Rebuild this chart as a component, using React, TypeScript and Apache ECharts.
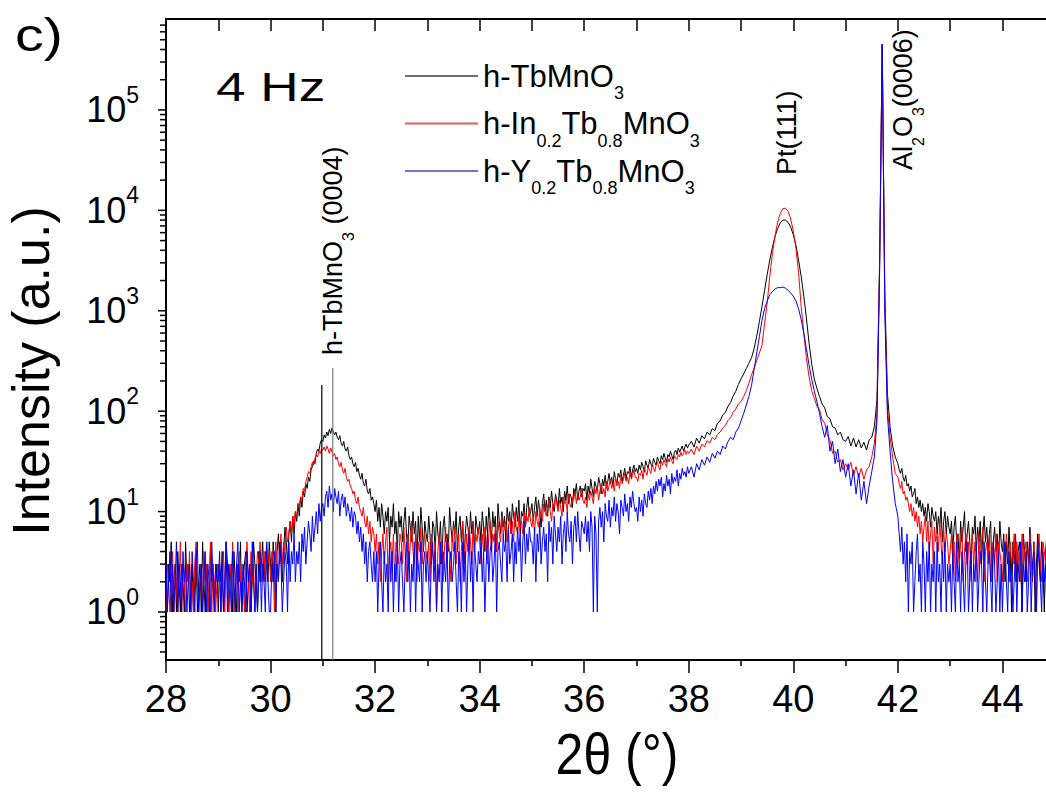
import React, { useEffect, useRef } from "react";
import * as echarts from "echarts";

const FONT = "'Liberation Sans', Arial, Helvetica, sans-serif";

// axis ranges
const X_MIN = 28;
const X_MAX = 46;
const Y_MIN = 0.3326;
const Y_MAX = 805000;

const TB_MNO3: number[][] = [
  /*28*/ [2, 1, 3, 2, 5, 1, 2, 3, 1, 4, 2, 1, 3, 2, 1, 5, 2, 3, 1, 2, 3, 1, 2, 4, 1, 2, 3, 1, 5, 2, 1, 3, 2, 1, 4, 2, 3, 1, 2, 3],
  /*29*/ [1, 3, 2, 4, 1, 2, 5, 3, 1, 2, 3, 1, 4, 2, 1, 3, 2, 5, 1, 2, 3, 4, 1, 2, 3, 1, 2, 5, 3, 2, 1, 4, 2, 3, 5, 2, 4, 3, 2, 5],
  /*30*/ [3, 2, 5, 3, 1, 4, 6, 3, 5, 2, 4, 7, 5, 3, 6, 8, 5, 9, 6, 10, 8, 12, 9, 14, 11, 16, 14, 19, 17, 22, 20, 26, 28, 32, 30, 38, 42, 40, 48, 52],
  /*31*/ [50, 58, 54, 62, 57, 66, 60, 68, 63, 58, 62, 55, 52, 57, 48, 45, 50, 42, 40, 44, 36, 33, 35, 30, 28, 31, 25, 27, 23, 21, 24, 19, 18, 21, 16, 15, 17, 13, 14, 12],
  /*32*/ [10, 13, 8, 11, 7, 12, 9, 6, 10, 8, 11, 5, 9, 7, 12, 6, 8, 4, 10, 7, 9, 5, 8, 11, 6, 4, 9, 7, 5, 10, 6, 8, 3, 9, 5, 11, 7, 4, 8, 6],
  /*33*/ [5, 9, 6, 3, 8, 7, 4, 10, 6, 5, 8, 3, 7, 9, 5, 6, 4, 11, 7, 5, 8, 6, 10, 4, 7, 9, 5, 8, 3, 6, 9, 7, 5, 10, 6, 8, 4, 9, 7, 6],
  /*34*/ [8, 5, 10, 7, 4, 9, 6, 11, 8, 5, 10, 7, 9, 4, 12, 8, 6, 10, 7, 9, 5, 11, 8, 10, 6, 12, 9, 7, 11, 8, 13, 6, 10, 9, 12, 7, 11, 14, 9, 10],
  /*35*/ [12, 8, 11, 14, 9, 13, 10, 7, 12, 15, 10, 13, 9, 14, 11, 16, 12, 10, 15, 13, 11, 17, 12, 14, 10, 16, 13, 18, 12, 15, 14, 11, 17, 15, 19, 13, 16, 18, 14, 17],
  /*36*/ [16, 19, 13, 18, 15, 21, 17, 14, 20, 18, 16, 22, 19, 15, 21, 18, 23, 17, 20, 24, 19, 22, 18, 25, 21, 19, 24, 22, 26, 20, 23, 27, 21, 25, 24, 28, 22, 26, 29, 25],
  /*37*/ [27, 24, 29, 26, 31, 28, 25, 32, 29, 27, 33, 30, 28, 34, 31, 29, 35, 32, 30, 36, 33, 38, 34, 31, 37, 35, 40, 36, 33, 39, 41, 37, 43, 39, 42, 45, 40, 44, 47, 43],
  /*38*/ [46, 50, 44, 54, 48, 57, 53, 62, 58, 67, 64, 76, 80, 92, 97, 112, 122, 142, 158, 185],
  /*39*/ [210, 235, 265, 300, 340, 420, 560, 780, 1100, 1600, 2300, 3200, 4300, 5500, 6600, 7500, 8000, 8000, 7600, 6800],
  /*40*/ [5700, 4500, 3200, 2200, 1400, 850, 480, 300, 210, 170, 140, 118, 108, 88, 84, 70, 68, 58, 62, 52],
  /*41*/ [50, 56, 45, 54, 44, 52, 43, 49, 41, 52, 55, 70, 130, 3000, 450000, 1500, 150, 70, 45, 35],
  /*42*/ [30, 26, 24, 27, 22, 20, 23, 18, 19, 16, 18, 14, 15, 17, 12, 14, 11, 13, 10, 12, 9, 11, 8, 12, 10, 7, 11, 9, 8, 10, 6, 9, 7, 11, 5, 8, 10, 6, 9, 7],
  /*43*/ [6, 8, 4, 7, 9, 5, 6, 3, 8, 5, 7, 10, 4, 6, 8, 5, 3, 7, 6, 9, 4, 7, 5, 8, 3, 6, 9, 5, 7, 4, 6, 8, 2, 5, 7, 4, 6, 3, 8, 5],
  /*44*/ [4, 6, 2, 5, 3, 7, 4, 1, 5, 3, 6, 2, 4, 5, 3, 1, 6, 4, 2, 5, 3, 7, 4, 2, 5, 1, 3, 6, 4, 2, 5, 3, 1, 4, 6, 2, 5, 3, 4, 2],
];

const IN_TB_MNO3: number[][] = [
  /*28*/ [1, 3, 2, 1, 2, 4, 1, 3, 2, 1, 2, 5, 1, 3, 2, 1, 3, 2, 4, 1, 2, 1, 3, 5, 2, 1, 2, 3, 1, 4, 2, 3, 1, 2, 5, 1, 3, 2, 1, 2],
  /*29*/ [3, 2, 1, 2, 4, 1, 3, 2, 1, 3, 2, 5, 1, 2, 3, 1, 4, 2, 3, 2, 1, 3, 5, 2, 1, 4, 2, 3, 1, 2, 4, 3, 5, 2, 3, 4, 2, 5, 3, 4],
  /*30*/ [2, 4, 3, 1, 5, 3, 2, 4, 6, 3, 5, 4, 7, 5, 6, 8, 6, 9, 7, 10, 9, 12, 11, 14, 13, 17, 16, 20, 22, 25, 24, 28, 31, 29, 34, 37, 35, 40, 38, 42],
  /*31*/ [41, 44, 40, 45, 42, 38, 43, 39, 36, 38, 33, 35, 30, 28, 31, 26, 24, 27, 22, 20, 21, 18, 17, 15, 16, 13, 12, 14, 11, 10, 9, 11, 8, 7, 9, 6, 8, 5, 7, 6],
  /*32*/ [4, 6, 3, 5, 2, 4, 6, 3, 5, 7, 2, 4, 5, 3, 6, 2, 5, 4, 3, 6, 5, 3, 7, 4, 2, 6, 3, 5, 8, 4, 3, 6, 2, 5, 4, 7, 3, 5, 6, 4],
  /*33*/ [3, 5, 2, 6, 4, 3, 5, 1, 4, 6, 3, 5, 2, 4, 7, 3, 5, 4, 2, 6, 4, 7, 3, 5, 6, 2, 4, 8, 5, 3, 6, 4, 7, 5, 3, 8, 4, 6, 5, 7],
  /*34*/ [5, 3, 6, 4, 7, 5, 3, 6, 8, 4, 6, 5, 7, 4, 8, 6, 5, 9, 6, 7, 8, 5, 7, 9, 6, 8, 5, 10, 7, 6, 9, 7, 8, 6, 10, 7, 9, 8, 11, 8],
  /*35*/ [7, 9, 6, 10, 8, 7, 11, 9, 8, 12, 10, 9, 11, 13, 10, 8, 12, 11, 14, 12, 10, 13, 11, 9, 14, 12, 13, 10, 15, 12, 11, 14, 13, 16, 12, 15, 13, 14, 17, 13],
  /*36*/ [12, 14, 11, 15, 13, 16, 14, 12, 17, 15, 18, 13, 16, 19, 15, 17, 14, 20, 16, 18, 21, 17, 19, 16, 22, 18, 20, 17, 23, 19, 21, 24, 20, 22, 19, 25, 21, 23, 26, 22],
  /*37*/ [22, 20, 24, 23, 26, 21, 27, 25, 23, 28, 26, 24, 30, 27, 25, 29, 31, 28, 26, 32, 29, 33, 30, 28, 34, 31, 35, 32, 30, 36, 34, 33, 37, 35, 39, 36, 38, 41, 37, 40],
  /*38*/ [38, 42, 37, 45, 40, 47, 44, 51, 48, 55, 52, 59, 62, 68, 72, 81, 86, 98, 105, 118],
  /*39*/ [125, 140, 160, 190, 230, 270, 320, 380, 450, 750, 1200, 2200, 3700, 5600, 7600, 9300, 10400, 10500, 9800, 8200],
  /*40*/ [6200, 4200, 2400, 1100, 600, 340, 220, 160, 135, 112, 104, 82, 76, 58, 52, 38, 40, 31, 33, 26],
  /*41*/ [30, 26, 31, 23, 28, 22, 27, 21, 26, 28, 35, 48, 95, 2500, 450000, 1100, 110, 55, 35, 24],
  /*42*/ [22, 19, 17, 20, 15, 16, 13, 14, 12, 10, 12, 9, 11, 8, 10, 7, 9, 6, 8, 5, 7, 9, 5, 8, 4, 6, 8, 3, 7, 5, 6, 4, 8, 5, 3, 7, 4, 6, 5, 3],
  /*43*/ [4, 6, 3, 5, 2, 6, 4, 3, 5, 7, 2, 4, 6, 3, 5, 2, 4, 6, 3, 5, 4, 2, 6, 3, 5, 7, 2, 4, 5, 3, 6, 2, 4, 5, 3, 6, 2, 5, 4, 3],
  /*44*/ [2, 5, 3, 6, 4, 2, 5, 3, 4, 6, 2, 5, 3, 4, 2, 6, 3, 4, 5, 2, 3, 6, 4, 2, 5, 3, 1, 4, 6, 3, 2, 5, 4, 3, 6, 2, 4, 3, 5, 2],
];

const Y_TB_MNO3: number[][] = [
  /*28*/ [3, 1, 2, 4, 1, 3, 1, 2, 5, 1, 3, 2, 1, 4, 2, 3, 1, 2, 3, 1, 4, 2, 1, 3, 5, 1, 2, 3, 1, 2, 4, 1, 3, 2, 1, 5, 2, 1, 3, 2],
  /*29*/ [2, 4, 1, 3, 1, 2, 5, 1, 3, 2, 1, 4, 2, 1, 3, 5, 1, 2, 1, 3, 2, 1, 4, 2, 3, 1, 5, 2, 1, 3, 1, 2, 4, 1, 3, 2, 1, 5, 2, 1],
  /*30*/ [1, 3, 2, 4, 1, 3, 2, 5, 3, 1, 2, 4, 3, 1, 5, 2, 4, 3, 6, 2, 4, 3, 5, 2, 6, 4, 7, 3, 5, 8, 6, 4, 9, 5, 7, 10, 6, 12, 8, 11],
  /*31*/ [12, 9, 14, 16, 11, 18, 13, 15, 10, 17, 14, 12, 16, 9, 13, 15, 11, 14, 9, 12, 10, 8, 11, 7, 10, 9, 6, 8, 5, 7, 4, 6, 3, 5, 2, 4, 5, 3, 2, 4],
  /*32*/ [2, 4, 1, 3, 5, 2, 1, 4, 2, 3, 1, 5, 2, 4, 1, 3, 2, 5, 1, 3, 4, 2, 1, 3, 5, 2, 4, 1, 3, 2, 5, 1, 4, 3, 2, 5, 1, 3, 4, 2],
  /*33*/ [4, 2, 1, 3, 5, 2, 4, 1, 3, 2, 5, 1, 4, 3, 2, 5, 1, 3, 4, 2, 3, 5, 2, 1, 4, 3, 1, 5, 2, 4, 1, 3, 6, 2, 4, 1, 5, 3, 2, 4],
  /*34*/ [3, 5, 2, 4, 1, 3, 6, 2, 4, 5, 2, 3, 6, 1, 4, 5, 3, 2, 6, 4, 5, 2, 7, 3, 4, 6, 2, 5, 3, 7, 4, 6, 2, 5, 8, 3, 6, 4, 7, 5],
  /*35*/ [5, 3, 7, 2, 6, 4, 8, 3, 5, 7, 4, 6, 2, 8, 5, 7, 3, 9, 6, 4, 7, 5, 9, 3, 6, 8, 4, 10, 6, 5, 8, 3, 7, 9, 5, 10, 6, 4, 8, 7],
  /*36*/ [6, 9, 5, 8, 4, 10, 7, 1, 9, 6, 1, 8, 11, 7, 10, 5, 12, 9, 8, 13, 7, 11, 9, 14, 8, 12, 10, 6, 13, 11, 9, 15, 10, 12, 8, 14, 11, 16, 12, 10],
  /*37*/ [11, 8, 14, 10, 13, 9, 15, 12, 11, 16, 13, 17, 12, 18, 15, 20, 16, 21, 18, 22, 14, 19, 16, 23, 18, 21, 15, 24, 19, 22, 20, 26, 18, 24, 21, 27, 23, 25, 22, 28],
  /*38*/ [24, 28, 22, 30, 26, 33, 29, 35, 31, 38, 34, 40, 37, 45, 42, 50, 55, 52, 62, 68],
  /*39*/ [80, 95, 115, 140, 180, 260, 380, 550, 800, 1050, 1250, 1450, 1550, 1650, 1700, 1700, 1720, 1680, 1600, 1500],
  /*40*/ [1400, 1250, 1050, 820, 600, 420, 290, 210, 160, 125, 95, 70, 55, 72, 40, 50, 30, 42, 25, 33],
  /*41*/ [22, 30, 18, 26, 15, 24, 13, 20, 12, 18, 25, 35, 80, 2500, 450000, 1000, 90, 40, 20, 12],
  /*42*/ [9, 6, 4, 7, 3, 5, 2, 6, 1, 4, 3, 5, 1, 2, 4, 6, 2, 3, 1, 5, 3, 1, 4, 2, 5, 1, 3, 2, 4, 1, 5, 2, 3, 1, 4, 2, 5, 1, 3, 2],
  /*43*/ [3, 1, 4, 2, 1, 5, 2, 3, 1, 4, 2, 1, 3, 5, 1, 2, 4, 1, 3, 2, 5, 1, 2, 4, 3, 1, 5, 2, 1, 3, 4, 2, 1, 5, 3, 1, 2, 4, 1, 3],
  /*44*/ [1, 3, 5, 2, 1, 4, 2, 3, 1, 2, 4, 1, 3, 2, 5, 1, 3, 2, 4, 1, 2, 5, 1, 3, 4, 2, 1, 5, 3, 2, 1, 4, 2, 3, 1, 5, 2, 4, 1, 3],
];

const SERIES_NAMES = ["h-TbMnO3", "h-In0.2Tb0.8MnO3", "h-Y0.2Tb0.8MnO3"];
const SERIES_COLORS = ["#000000", "#ff0000", "#0000ff"];
const LEGEND_COLORS = ["#707070", "#e05a5a", "#7373c8"];
const LEGEND_LABELS = [
  "{m|h-TbMnO}{s|3}",
  "{m|h-In}{s|0.2}{m|Tb}{s|0.8}{m|MnO}{s|3}",
  "{m|h-Y}{s|0.2}{m|Tb}{s|0.8}{m|MnO}{s|3}",
];

// reference drop lines under the h-TbMnO3 (0004) label: [2θ, top intensity]
const REF_LINES = [
  { x: 30.98, top: 182, color: "#000000" },
  { x: 31.19, top: 269, color: "#7a7a7a" },
];

// y-axis ticks (log decades and minor 2..9 sub-ticks)
const Y_MAJOR = [1, 10, 100, 1000, 10000, 100000];
const Y_MINOR = [
  0.4, 0.5, 0.6, 0.7, 0.8, 0.9,
  2, 3, 4, 5, 6, 7, 8, 9,
  20, 30, 40, 50, 60, 70, 80, 90,
  200, 300, 400, 500, 600, 700, 800, 900,
  2000, 3000, 4000, 5000, 6000, 7000, 8000, 9000,
  20000, 30000, 40000, 50000, 60000, 70000, 80000, 90000,
  200000, 300000, 400000, 500000, 600000, 700000,
];

const toPoints = (rows: number[][]) =>
  rows.flatMap((row, r) => row.map((v, i) => [+(X_MIN + r + i / row.length).toFixed(3), v]));

const black = "#000000";

function buildOption() {
  const dataSets = [TB_MNO3, IN_TB_MNO3, Y_TB_MNO3];
  const mainSeries = SERIES_NAMES.map((name, k) => ({
    name,
    type: "line",
    data: toPoints(dataSets[k]),
    showSymbol: false,
    symbol: "none",
    lineStyle: { color: SERIES_COLORS[k], width: 1 },
    itemStyle: { color: SERIES_COLORS[k] },
    z: 2 + k,
  }));

  const refSeries = REF_LINES.map((r, k) => ({
    name: "ref" + k,
    type: "line",
    data: [
      [r.x, Y_MIN],
      [r.x, r.top],
    ],
    showSymbol: false,
    symbol: "none",
    lineStyle: { color: r.color, width: 1.2 },
    z: 6,
    silent: true,
  }));

  const tickSeries = {
    name: "yticks",
    type: "custom",
    coordinateSystem: "cartesian2d",
    silent: true,
    clip: false,
    z: 10,
    data: [...Y_MAJOR.map((v) => [X_MIN, v, 8]), ...Y_MINOR.map((v) => [X_MIN, v, 6])],
    encode: { x: 0, y: 1 },
    renderItem: (_p: any, api: any) => {
      const pt = api.coord([api.value(0), api.value(1)]);
      const len = api.value(2);
      return {
        type: "line",
        shape: { x1: pt[0] - len, y1: pt[1], x2: pt[0], y2: pt[1] },
        style: { stroke: black, lineWidth: 1.5 },
      };
    },
  };

  const axisLine = { show: true, onZero: false, lineStyle: { color: black, width: 2 } };

  return {
    animation: false,
    backgroundColor: "#ffffff",
    textStyle: { fontFamily: FONT },
    grid: { left: 166, top: 19, right: -61, bottom: 140, containLabel: false, outerBoundsMode: "none" },
    legend: {
      orient: "vertical",
      left: 400,
      top: 45,
      itemWidth: 73,
      itemHeight: 2,
      itemGap: -4.5,
      icon: "rect",
      selectedMode: false,
      data: SERIES_NAMES.map((n, k) => ({ name: n, itemStyle: { color: LEGEND_COLORS[k] } })),
      formatter: (name: string) => LEGEND_LABELS[SERIES_NAMES.indexOf(name)],
      textStyle: {
        rich: {
          m: { fontSize: 31, lineHeight: 31, color: black, fontFamily: FONT },
          s: { fontSize: 18, lineHeight: 18, color: black, fontFamily: FONT, padding: [34, 0, 0, 0] },
        },
      },
    },
    xAxis: [
      {
        type: "value",
        position: "bottom",
        min: X_MIN,
        max: X_MAX,
        interval: 2,
        axisLine,
        axisTick: { show: true, length: 13, lineStyle: { color: black, width: 1.5 } },
        minorTick: { show: true, splitNumber: 2, length: 6, lineStyle: { color: black, width: 1.5 } },
        splitLine: { show: false },
        minorSplitLine: { show: false },
        axisLabel: {
          color: black,
          fontSize: 38,
          fontFamily: FONT,
          margin: 20,
          showMaxLabel: false,
          formatter: (v: number) => (Math.abs((v - X_MIN) % 2) < 1e-6 ? String(v) : ""),
        },
      },
      {
        type: "value",
        position: "top",
        min: X_MIN,
        max: X_MAX,
        interval: 1,
        axisLine,
        axisTick: { show: true, inside: true, length: 12, lineStyle: { color: black, width: 1.5 } },
        axisLabel: { show: false },
        splitLine: { show: false },
      },
    ],
    yAxis: {
      type: "log",
      logBase: 10,
      min: Y_MIN,
      max: Y_MAX,
      axisLine,
      axisTick: { show: false },
      splitLine: { show: false },
      axisLabel: {
        margin: 27,
        formatter: (v: number) => {
          const e = Math.log10(v);
          if (Math.abs(e - Math.round(e)) > 1e-6) return "";
          return "{b|10}{s|" + Math.round(e) + "}";
        },
        rich: {
          b: { fontSize: 36, lineHeight: 36, color: black, fontFamily: FONT },
          s: { fontSize: 23, lineHeight: 23, color: black, fontFamily: FONT, padding: [0, 0, 30, 0] },
        },
      },
    },
    graphic: [
      {
        type: "text",
        x: 15,
        y: 12,
        scaleX: 1.25,
        style: { text: "c)", fontSize: 46, fontFamily: FONT, fill: black, align: "left", verticalAlign: "top" },
      },
      {
        type: "text",
        x: 216,
        y: 87,
        scaleX: 1.33,
        style: { text: "4 Hz", fontSize: 40, fontFamily: FONT, fill: black, align: "left", verticalAlign: "middle" },
      },
      {
        type: "text",
        x: 31,
        y: 371,
        rotation: Math.PI / 2,
        style: {
          text: "Intensity (a.u.)",
          fontSize: 52,
          fontFamily: FONT,
          fill: black,
          align: "center",
          verticalAlign: "middle",
        },
      },
      {
        type: "text",
        x: 617,
        y: 754,
        scaleY: 1.15,
        style: { text: "2θ (°)", fontSize: 50, fontFamily: FONT, fill: black, align: "center", verticalAlign: "middle" },
      },
      {
        type: "text",
        x: 333,
        y: 355,
        rotation: Math.PI / 2,
        style: {
          text: "{m|h-TbMnO}{s|3}{m| (0004)}",
          align: "left",
          verticalAlign: "middle",
          rich: {
            m: { fontSize: 27, lineHeight: 27, fill: black, fontFamily: FONT },
            s: { fontSize: 16, lineHeight: 16, fill: black, fontFamily: FONT, padding: [30, 0, 0, 0] },
          },
        },
      },
      {
        type: "text",
        x: 787,
        y: 175,
        rotation: Math.PI / 2,
        style: { text: "Pt(111)", fontSize: 27, fontFamily: FONT, fill: black, align: "left", verticalAlign: "middle" },
      },
      {
        type: "text",
        x: 903,
        y: 170,
        rotation: Math.PI / 2,
        style: {
          text: "{m|Al}{s|2}{m|O}{s|3}{m|(0006)}",
          align: "left",
          verticalAlign: "middle",
          rich: {
            m: { fontSize: 27, lineHeight: 27, fill: black, fontFamily: FONT },
            s: { fontSize: 16, lineHeight: 16, fill: black, fontFamily: FONT, padding: [30, 0, 0, 0] },
          },
        },
      },
    ],
    series: [...mainSeries, ...refSeries, tickSeries],
  };
}

export default function App() {
  const ref = useRef<HTMLDivElement>(null);
  useEffect(() => {
    if (!ref.current) return;
    const chart = echarts.init(ref.current, null, { renderer: "svg" });
    chart.setOption(buildOption() as any);
    return () => {
      chart.dispose();
    };
  }, []);
  return (
    <div
      ref={ref}
      style={{ position: "fixed", left: 0, top: 0, width: 1046, height: 800, background: "#ffffff" }}
    />
  );
}
